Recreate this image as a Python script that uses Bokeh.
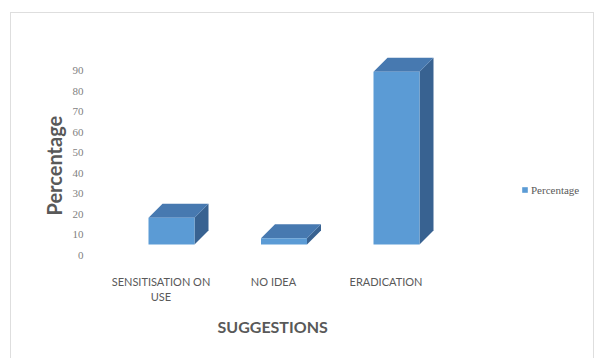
import numpy as np
from bokeh.plotting import figure
from bokeh.models import Range1d, FixedTicker, Legend, LegendItem, Title
from bokeh.embed import file_html
from bokeh.resources import INLINE

# ---- data ----
categories = ["SENSITISATION ON\nUSE", "NO IDEA", "ERADICATION"]
values = [13, 3, 84]
series_name = "Percentage"
y_ticks = [0, 10, 20, 30, 40, 50, 60, 70, 80, 90]
x_title = "SUGGESTIONS"
y_title = "Percentage"

# ---- layout constants (pixels) ----
W, H = 595, 358
FRAME_L, FRAME_R, FRAME_T, FRAME_B = 95, 590, 40, 265
PX_X = 112.5          # px per category step
CAT0_PX = 160.5       # px of first category centre
PX_Y = 2.0556         # px per percentage unit
ZERO_PX = 255         # px of value 0

x_start = (FRAME_L - CAT0_PX) / PX_X
x_end = (FRAME_R - CAT0_PX) / PX_X
y_start = (ZERO_PX - FRAME_B) / PX_Y
y_end = (ZERO_PX - FRAME_T) / PX_Y

p = figure(width=W, height=H, output_backend="svg", toolbar_location=None,
           x_range=Range1d(x_start, x_end), y_range=Range1d(y_start, y_end),
           min_border_left=FRAME_L, min_border_right=W - FRAME_R,
           min_border_top=FRAME_T, min_border_bottom=H - FRAME_B)
p.outline_line_color = None
p.xgrid.visible = False
p.ygrid.visible = False
p.background_fill_color = "white"
p.border_fill_color = "white"

# ---- 3D bars ----
FRONT, TOP, SIDE = "#5b9bd5", "#4779b0", "#386291"
xs = np.arange(len(categories))
vals = np.array(values, dtype=float)
off = 10.5 / PX_X
hw = 23 / PX_X
ddx = 14 / PX_X
ddy = 14 / PX_Y
base = 11 / PX_Y
fl = xs + off - hw
fr = xs + off + hw
tops = base + vals

side_xs = [[fr[i], fr[i] + ddx, fr[i] + ddx, fr[i]] for i in range(len(xs))]
side_ys = [[base, base + ddy, tops[i] + ddy, tops[i]] for i in range(len(xs))]
top_xs = [[fl[i], fl[i] + ddx, fr[i] + ddx, fr[i]] for i in range(len(xs))]
top_ys = [[tops[i], tops[i] + ddy, tops[i] + ddy, tops[i]] for i in range(len(xs))]

p.patches(side_xs, side_ys, fill_color=SIDE, line_color=None)
p.patches(top_xs, top_ys, fill_color=TOP, line_color=None)
front = p.quad(left=fl, right=fr, bottom=base, top=tops, fill_color=FRONT, line_color=None)

# ---- axes ----
yax = p.yaxis[0]
yax.ticker = FixedTicker(ticks=y_ticks)
yax.axis_line_color = None
yax.major_tick_line_color = None
yax.minor_tick_line_color = None
yax.major_label_text_font = "Liberation Serif"
yax.major_label_text_font_size = "11px"
yax.major_label_text_color = "#7f7f7f"
yax.major_label_standoff = 6

xax = p.xaxis[0]
xax.ticker = FixedTicker(ticks=list(range(len(categories))))
xax.major_label_overrides = {i: c for i, c in enumerate(categories)}
xax.axis_line_color = None
xax.major_tick_line_color = None
xax.minor_tick_line_color = None
xax.major_label_text_font = "Lato"
xax.major_label_text_font_size = "11px"
xax.major_label_text_color = "#595959"
xax.major_label_standoff = 3

# ---- titles (side-panel titles, offset from frame edge to match reference) ----
t_x = Title(text=x_title, align="left", offset=217 - FRAME_L, standoff=16,
            text_font="Lato", text_font_style="bold", text_font_size="16px",
            text_color="#595959")
p.add_layout(t_x, "below")
t_y = Title(text=y_title, align="left", offset=FRAME_B - 215, standoff=7,
            text_font="Lato", text_font_style="bold", text_font_size="20px",
            text_color="#595959")
p.add_layout(t_y, "left")

# ---- legend ----
legend = Legend(items=[LegendItem(label=series_name, renderers=[front])],
                location=(426, 69), padding=0, margin=0, border_line_color=None,
                background_fill_alpha=0, glyph_width=7, glyph_height=7,
                label_standoff=3, label_height=13, label_text_font="Liberation Serif",
                label_text_font_size="11px", label_text_color="#595959")
p.add_layout(legend)

# ---- outer border (CSS overlay on the plot host) ----
try:
    p.stylesheets = [":host{position:relative;}"
                     ":host::after{content:'';position:absolute;left:10px;top:12px;"
                     "right:1px;bottom:0px;border:1.5px solid #dedede;border-bottom:none;"
                     "pointer-events:none;}"]
except Exception:
    pass

open("out.html", "w").write(file_html(p, INLINE))
